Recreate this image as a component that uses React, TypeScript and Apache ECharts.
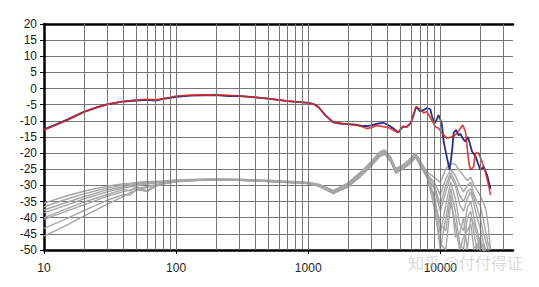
import React, { useEffect, useRef } from 'react';
import * as echarts from 'echarts';

// Frequencies (Hz) shared by the gray family of curves
const GRAY_FREQ = [10, 15, 20, 30, 40, 45, 50, 60, 70, 80, 100, 150, 200, 300, 500, 700, 1000, 1200, 1550, 2000, 2500, 3000, 3500, 3800, 4200, 4600, 5200, 5800, 6500, 7200, 8000, 9000, 10000, 11000, 12000, 13000, 14000, 15000, 16000, 17000, 18000, 19000, 20000, 21000, 22000, 23000, 24000];

const GRAY_1 = [-35.5, -33.2, -31.8, -30.2, -29.5, -29.3, -29.1, -28.8, -28.7, -28.6, -28.3, -28.1, -28.0, -28.1, -28.4, -28.7, -29.0, -29.6, -31.5, -29.2, -25.8, -22.5, -19.5, -19.0, -21.2, -24.8, -23.6, -22.0, -20.0, -23.0, -26.0, -27.5, -29.0, -25.0, -23.0, -23.5, -25.5, -27.0, -28.5, -27.5, -30.0, -31.5, -33.0, -35.0, -37.0, -42.0, -50.0];
const GRAY_2 = [-36.6, -34.2, -32.6, -30.8, -29.9, -29.6, -29.4, -29.1, -28.9, -28.8, -28.5, -28.2, -28.1, -28.2, -28.6, -28.9, -29.2, -29.9, -32.0, -29.8, -26.4, -23.2, -20.2, -19.6, -21.8, -25.4, -24.2, -22.8, -20.6, -23.8, -26.8, -29.0, -33.0, -28.0, -25.0, -27.0, -30.0, -32.0, -30.0, -29.0, -33.0, -35.0, -36.0, -40.0, -44.0, -48.0, -50.0];
const GRAY_3 = [-37.6, -35.2, -33.5, -31.4, -30.4, -30.0, -29.7, -29.3, -29.1, -29.0, -28.6, -28.3, -28.2, -28.3, -28.7, -29.0, -29.3, -30.1, -32.3, -30.2, -26.8, -23.6, -20.6, -20.0, -22.2, -25.8, -24.6, -23.2, -21.0, -24.2, -27.4, -31.0, -38.0, -32.0, -27.0, -30.0, -36.0, -38.0, -34.0, -32.0, -36.0, -40.0, -43.0, -47.0, -50.0, -51.0, -52.0];
const GRAY_4 = [-40.0, -37.2, -35.2, -32.8, -31.3, -31.6, -30.4, -31.6, -30.0, -29.4, -28.8, -28.4, -28.3, -28.4, -28.8, -29.1, -29.4, -30.3, -32.5, -30.5, -27.2, -24.0, -21.0, -20.4, -22.6, -26.2, -25.0, -23.6, -21.4, -24.6, -28.0, -33.0, -45.0, -36.0, -29.0, -34.0, -42.0, -44.0, -37.0, -35.0, -40.0, -44.0, -48.0, -50.0, -51.0, -52.0, -52.0];
const GRAY_5 = [-40.5, -37.9, -36.0, -33.4, -31.9, -31.4, -31.0, -30.3, -29.8, -29.4, -28.7, -28.3, -28.2, -28.3, -28.7, -29.0, -29.3, -30.0, -32.2, -30.0, -26.6, -23.4, -20.4, -19.8, -22.0, -25.6, -24.4, -23.0, -20.8, -24.0, -27.2, -35.0, -50.0, -40.0, -31.0, -38.0, -48.0, -50.0, -40.0, -38.0, -45.0, -50.0, -46.0, -50.0, -52.0, -52.0, -52.0];
const GRAY_6 = [-43.3, -40.2, -37.8, -34.6, -32.8, -33.0, -31.2, -31.9, -30.3, -29.6, -28.9, -28.4, -28.3, -28.4, -28.8, -29.1, -29.4, -30.2, -32.4, -30.4, -27.0, -23.8, -20.8, -20.2, -22.4, -26.0, -24.8, -23.4, -21.2, -24.4, -27.6, -37.0, -48.0, -50.0, -35.0, -42.0, -50.0, -46.0, -44.0, -42.0, -50.0, -48.0, -50.0, -52.0, -52.0, -52.0, -52.0];
const GRAY_7 = [-45.7, -42.2, -39.5, -35.9, -33.4, -32.2, -31.6, -30.6, -30.0, -29.3, -28.7, -28.3, -28.2, -28.3, -28.7, -29.0, -29.3, -30.0, -32.1, -29.9, -26.5, -23.3, -20.3, -19.7, -21.9, -25.5, -24.3, -22.9, -20.7, -23.9, -27.1, -34.0, -42.0, -44.0, -33.0, -46.0, -45.0, -40.0, -50.0, -40.0, -42.0, -46.0, -50.0, -48.0, -52.0, -52.0, -52.0];
const GRAY_8 = [-38.5, -36.0, -34.2, -32.0, -30.8, -30.4, -30.1, -29.6, -29.3, -29.1, -28.6, -28.2, -28.1, -28.2, -28.6, -28.9, -29.2, -29.8, -31.8, -29.6, -26.2, -23.0, -20.0, -19.4, -21.6, -25.2, -24.0, -22.6, -20.4, -23.6, -26.6, -30.0, -36.0, -30.0, -26.0, -29.0, -33.0, -35.0, -32.0, -31.0, -34.0, -37.0, -40.0, -44.0, -47.0, -50.0, -52.0];
const GRAY_SETS = [GRAY_1, GRAY_2, GRAY_3, GRAY_4, GRAY_5, GRAY_6, GRAY_7, GRAY_8];

const BLUE_FREQ = [10, 12, 15, 20, 25, 30, 40, 50, 60, 70, 80, 90, 100, 130, 200, 250, 300, 400, 500, 700, 1000, 1100, 1200, 1350, 1550, 1800, 2000, 2300, 2600, 2800, 3000, 3300, 3700, 4000, 4400, 4800, 5200, 5600, 6000, 6200, 6550, 7050, 7500, 7900, 8400, 8700, 9150, 9700, 10000, 10300, 10600, 11250, 11760, 12270, 12610, 13150, 13750, 14200, 14800, 15470, 16210, 17380, 18500, 20080, 21280, 22570, 24000];
const BLUE_DB = [-12.6, -11.3, -9.6, -7.2, -5.8, -4.9, -4.0, -3.7, -3.5, -3.7, -3.2, -2.9, -2.6, -2.2, -2.0, -2.3, -2.3, -2.7, -3.1, -3.9, -4.4, -4.8, -5.8, -8.3, -10.5, -10.9, -11.0, -11.2, -11.6, -11.6, -11.4, -10.9, -10.6, -11.2, -12.3, -13.6, -11.8, -11.8, -10.6, -8.9, -5.7, -7.1, -6.6, -6.0, -6.4, -9.0, -10.6, -8.2, -9.5, -11.3, -16.4, -21.6, -25.2, -19.4, -13.8, -12.8, -14.5, -14.0, -15.5, -16.4, -15.0, -19.5, -21.0, -25.2, -24.2, -26.7, -31.0];

const RED_FREQ = [10, 12, 15, 20, 25, 30, 40, 50, 60, 70, 80, 90, 100, 130, 200, 300, 400, 500, 700, 1000, 1100, 1200, 1350, 1550, 1800, 2000, 2300, 2600, 2800, 3000, 3300, 3700, 4000, 4400, 4800, 5200, 5600, 6000, 6200, 6550, 7050, 7500, 7900, 8400, 9150, 9700, 10300, 11250, 12600, 13400, 14200, 14800, 15500, 15900, 16400, 16900, 17900, 18400, 19500, 20700, 21900, 23200, 24000];
const RED_DB = [-12.8, -11.5, -9.8, -7.3, -5.9, -4.9, -4.0, -3.6, -3.3, -3.5, -3.1, -2.7, -2.3, -2.0, -1.9, -2.3, -2.7, -3.1, -3.9, -4.4, -4.8, -5.8, -8.3, -10.4, -10.8, -11.0, -11.3, -11.9, -12.4, -12.1, -11.4, -11.8, -12.0, -12.8, -13.6, -11.8, -11.9, -10.5, -8.7, -5.6, -6.3, -7.6, -7.1, -9.0, -11.8, -12.3, -13.8, -15.4, -14.8, -13.8, -12.3, -11.3, -13.3, -17.5, -22.6, -25.2, -24.2, -20.0, -20.0, -22.6, -25.7, -29.9, -33.0];

// Vertical log grid lines (Hz)
const GRID_FREQ = [20, 30, 40, 50, 60, 70, 80, 90, 100, 200, 300, 400, 500, 600, 700, 800, 900, 1000, 2000, 3000, 4000, 5000, 6000, 7000, 8000, 9000, 10000, 20000, 30000];

const X_MIN = 10;
const X_MAX = 35500;
const Y_MIN = -50;
const Y_MAX = 20;
const Y_STEP = 5;

const WATERMARK = '知乎 @付付得证';

const FONT = "'Liberation Sans', Arial, Helvetica, sans-serif";

export default function App() {
  const ref = useRef<HTMLDivElement>(null);

  useEffect(() => {
    if (!ref.current) return;
    const chart = echarts.init(ref.current, null, { renderer: 'svg' });

    const pair = (fs: number[], vs: number[]) => fs.map((f, i) => [f, vs[i]]);

    const series: any[] = [
      {
        type: 'line',
        data: [],
        z: 1,
        silent: true,
        markLine: {
          silent: true,
          symbol: ['none', 'none'],
          label: { show: false },
          lineStyle: { color: '#777', width: 1, type: 'solid' },
          emphasis: { disabled: true },
          data: GRID_FREQ.map((f) => ({ xAxis: f })),
        },
      },
      ...GRAY_SETS.map((vals) => ({
        type: 'line',
        data: pair(GRAY_FREQ, vals),
        showSymbol: false,
        symbol: 'none',
        silent: true,
        z: 2,
        lineStyle: { color: '#a6a6a6', width: 1.4 },
      })),
      {
        type: 'line',
        data: pair(BLUE_FREQ, BLUE_DB),
        showSymbol: false,
        symbol: 'none',
        silent: true,
        z: 3,
        lineStyle: { color: '#27308a', width: 1.8 },
      },
      {
        type: 'line',
        data: pair(RED_FREQ, RED_DB),
        showSymbol: false,
        symbol: 'none',
        silent: true,
        z: 4,
        lineStyle: { color: '#d9261c', width: 1.7, opacity: 0.85 },
      },
    ];

    chart.setOption({
      animation: false,
      grid: { left: 44, top: 24, width: 469, height: 226 },
      xAxis: [
        {
          type: 'log',
          logBase: 10,
          min: X_MIN,
          max: X_MAX,
          position: 'bottom',
          axisLine: { show: true, onZero: false, lineStyle: { color: '#000', width: 2.5 } },
          axisTick: { show: true, length: 4, lineStyle: { color: '#000', width: 1 } },
          axisLabel: {
            color: '#222',
            fontSize: 12,
            fontFamily: FONT,
            margin: 12,
            showMaxLabel: false,
            formatter: (v: number) => String(Math.round(v)),
          },
          splitLine: { show: false },
        },
        {
          type: 'log',
          logBase: 10,
          min: X_MIN,
          max: X_MAX,
          position: 'top',
          axisLine: { show: true, onZero: false, lineStyle: { color: '#000', width: 2.5 } },
          axisTick: { show: false },
          axisLabel: { show: false },
          splitLine: { show: false },
        },
      ],
      yAxis: {
        type: 'value',
        min: Y_MIN,
        max: Y_MAX,
        interval: Y_STEP,
        axisLine: { show: true, onZero: false, lineStyle: { color: '#000', width: 2.5 } },
        axisTick: { show: true, length: 4, lineStyle: { color: '#000', width: 1 } },
        axisLabel: { color: '#222', fontSize: 12, fontFamily: FONT, margin: 7 },
        splitLine: { show: true, lineStyle: { color: '#777', width: 1 } },
      },
      graphic: [
        {
          type: 'text',
          left: 408,
          top: 254,
          z: 100,
          silent: true,
          style: {
            text: WATERMARK,
            fontSize: 16,
            fontFamily: "'Noto Sans CJK SC', sans-serif",
            fill: 'rgba(185,185,185,0.55)',
          },
        },
      ],
      series,
    });

    return () => chart.dispose();
  }, []);

  return (
    <div
      ref={ref}
      style={{ position: 'fixed', left: 0, top: 0, width: 539, height: 287, background: '#fff' }}
    />
  );
}
